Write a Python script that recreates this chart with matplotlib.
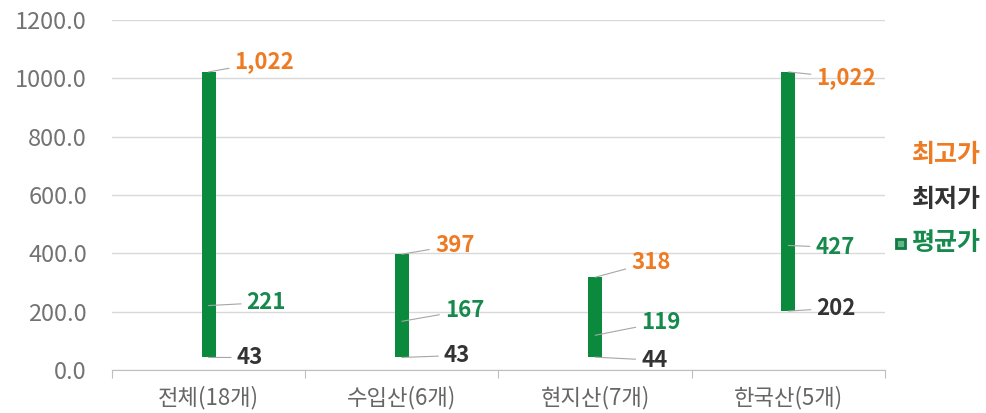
import numpy as np
import matplotlib.pyplot as plt
from matplotlib.ticker import FixedLocator, NullFormatter

plt.rcParams['font.family'] = ['Noto Sans CJK KR', 'DejaVu Sans']

categories = ['전체(18개)', '수입산(6개)', '현지산(7개)', '한국산(5개)']
max_price = [1022, 397, 318, 1022]
min_price = [43, 43, 44, 202]
avg_price = [221, 167, 119, 427]

# label offsets in pixels (dx, dy) from the data point
max_off = [(26, 10), (33, 9), (36, 15), (28, -6)]
avg_off = [(38, 3), (43, 11), (46, 13), (27, -2)]
min_off = [(28, 0), (42, 2), (46, -3), (28, 3)]

c_bar = '#0B8A3E'
c_max = '#EE7A22'
c_min = '#333333'
c_avg = '#168A4C'
c_lead = '#A6A6A6'

fig = plt.figure(figsize=(9.87, 4.13), dpi=100)
ax = fig.add_axes([112 / 987, 1 - 370 / 413, (885 - 112) / 987, (370 - 20) / 413])

x = np.arange(len(categories))
hi = np.array(max_price)
lo = np.array(min_price)
ax.bar(x, hi - lo, bottom=lo, width=0.072, color=c_bar, zorder=3)

def label(xi, yi, txt, off, color):
    ax.annotate(txt, xy=(xi, yi), xytext=off, textcoords='offset pixels',
                ha='left', va='center', fontsize=16, fontweight='bold', color=color,
                arrowprops=dict(arrowstyle='-', color=c_lead, lw=0.8,
                                shrinkA=2, shrinkB=0), zorder=4)

for i in range(len(categories)):
    label(x[i], max_price[i], f'{max_price[i]:,}', max_off[i], c_max)
    label(x[i], avg_price[i], f'{avg_price[i]:,}', avg_off[i], c_avg)
    label(x[i], min_price[i], f'{min_price[i]:,}', min_off[i], c_min)

ax.set_xlim(-0.5, len(categories) - 0.5)
ax.set_ylim(0, 1200)
ax.set_yticks(np.arange(0, 1201, 200))
ax.set_yticklabels([f'{v:.1f}' for v in np.arange(0, 1201, 200)])
ax.yaxis.grid(True, color='#D9D9D9', lw=1)
ax.set_axisbelow(True)
ax.tick_params(axis='y', length=0, pad=18, labelsize=17, labelcolor='#737373')

ax.xaxis.set_major_locator(FixedLocator(np.arange(-0.5, len(categories), 1)))
ax.xaxis.set_major_formatter(NullFormatter())
ax.xaxis.set_minor_locator(FixedLocator(x))
ax.set_xticklabels(categories, minor=True)
ax.tick_params(axis='x', which='major', length=6, color='#BFBFBF', direction='out')
ax.tick_params(axis='x', which='minor', length=0, pad=11, labelsize=16, labelcolor='#666666')

for s in ['top', 'right', 'left']:
    ax.spines[s].set_visible(False)
ax.spines['bottom'].set_color('#BFBFBF')

# legend text on the right
fig.text(981 / 987, 1 - 155 / 413, '최고가', ha='right', va='center',
         fontsize=18, fontweight='bold', color=c_max)
fig.text(981 / 987, 1 - 200 / 413, '최저가', ha='right', va='center',
         fontsize=18, fontweight='bold', color=c_min)
fig.text(981 / 987, 1 - 243 / 413, '평균가', ha='right', va='center',
         fontsize=18, fontweight='bold', color=c_avg)
fig.patches.append(plt.Rectangle((896 / 987, 1 - 248 / 413), 9 / 987, 9 / 413,
                                 transform=fig.transFigure, facecolor='#5FB888',
                                 edgecolor='#127A42', lw=2))

fig.savefig('out.png', dpi=100)
